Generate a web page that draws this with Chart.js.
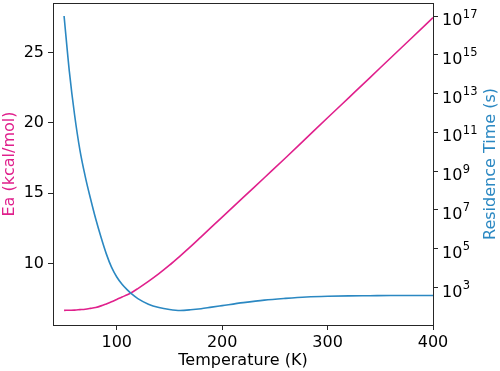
<!DOCTYPE html>
<html>
<head>
<meta charset="utf-8">
<script src="https://cdn.jsdelivr.net/npm/chart.js@4.4.1/dist/chart.umd.min.js"></script>
<style>
html,body{margin:0;padding:0;background:#ffffff;}
#c{display:block;}
</style>
</head>
<body>
<canvas id="c" width="500" height="371"></canvas>
<script>
// ---- data ----
const temperature = [50,55,60,65,70,75,80,85,90,95,100,105,110,115,120,130,140,150,160,170,180,190,200,220,240,260,280,300,320,340,360,380,400];
const activationEnergy = [6.67,6.68,6.69,6.72,6.75,6.81,6.88,6.99,7.13,7.28,7.45,7.62,7.78,7.98,8.22,8.73,9.28,9.88,10.53,11.2,11.9,12.6,13.3,14.7,16.1,17.5,18.93,20.36,21.78,23.2,24.63,26.05,27.48];
const residenceTime = [1e17,1.41e14,7.9e11,1.26e10,5.6e8,4.0e7,3.5e6,4.0e5,5.6e4,1.12e4,3.5e3,1.48e3,760,427,269,138,93,74,66,71,81,98,117,166,224,275,324,355,372,380,389,389,389];
const xTickValues = [100,200,300,400];
const eaTickValues = [10,15,20,25];
const tauTickExponents = [3,5,7,9,11,13,15,17];

const xLabel = 'Temperature (K)';
const eaLabel = 'Ea (kcal/mol)';
const tauLabel = 'Residence Time (s)';

const MAGENTA = '#e0208c';
const BLUE = '#2b88c2';
const AXIS = '#262626';
const FONT = 'DejaVu Sans';

const eaPoints = temperature.map((t,i) => ({x:t, y:activationEnergy[i]}));
const tauPoints = temperature.map((t,i) => ({x:t, y:residenceTime[i]}));

function noPad(s){ s.paddingTop = 0; s.paddingBottom = 0; s.paddingLeft = 0; s.paddingRight = 0; }

const framePlugin = {
  id: 'frame',
  afterDraw(chart){
    const {ctx, chartArea:a} = chart;
    ctx.save();
    ctx.strokeStyle = AXIS;
    ctx.lineWidth = 1;
    ctx.strokeRect(Math.round(a.left)+0.5, Math.round(a.top)+0.5, Math.round(a.right-a.left), Math.round(a.bottom-a.top));

    // right axis power-of-ten tick labels, positioned by the log scale
    const sTau = chart.scales.yTau;
    ctx.textAlign = 'left';
    ctx.textBaseline = 'alphabetic';
    ctx.fillStyle = '#000000';
    tauTickExponents.forEach(e => {
      const y = sTau.getPixelForValue(Math.pow(10, e));
      const x0 = a.right + 9;
      ctx.font = '16px "' + FONT + '"';
      ctx.fillText('10', x0, y + 9);
      const w = ctx.measureText('10').width;
      ctx.font = '11.5px "' + FONT + '"';
      ctx.fillText(String(e), x0 + w + 0.5, y + 1.5);
    });

    ctx.font = '16px "' + FONT + '"';
    ctx.textAlign = 'center';
    ctx.fillStyle = '#000000';
    ctx.fillText(xLabel, (a.left + a.right)/2, 365);
    const cy = (a.top + a.bottom)/2;
    ctx.save();
    ctx.translate(14, cy);
    ctx.rotate(-Math.PI/2);
    ctx.fillStyle = MAGENTA;
    ctx.fillText(eaLabel, 0, 0);
    ctx.restore();
    ctx.save();
    ctx.translate(495, cy);
    ctx.rotate(-Math.PI/2);
    ctx.fillStyle = BLUE;
    ctx.fillText(tauLabel, 0, 0);
    ctx.restore();
    ctx.restore();
  }
};

new Chart(document.getElementById('c'), {
  type: 'line',
  data: {
    datasets: [
      {label: eaLabel, data: eaPoints, yAxisID: 'yEa', borderColor: MAGENTA, borderWidth: 1.6, pointRadius: 0, fill: false, cubicInterpolationMode: 'monotone', order: 2},
      {label: tauLabel, data: tauPoints, yAxisID: 'yTau', borderColor: BLUE, borderWidth: 1.6, pointRadius: 0, fill: false, cubicInterpolationMode: 'monotone', order: 1}
    ]
  },
  options: {
    responsive: false,
    animation: false,
    devicePixelRatio: 1,
    layout: {padding: {top: 3, left: 0, right: 0, bottom: 0}},
    plugins: {legend: {display: false}, tooltip: {enabled: false}},
    scales: {
      x: {
        type: 'linear',
        min: 39.5, max: 400,
        afterBuildTicks: s => { s.ticks = xTickValues.map(v => ({value: v})); },
        afterFit: s => { s.height = 46; noPad(s); },
        grid: {display: true, drawOnChartArea: false, drawTicks: true, tickLength: 5, color: AXIS},
        border: {display: false},
        ticks: {color: '#000', font: {family: FONT, size: 16}, padding: 3, maxRotation: 0, autoSkip: false}
      },
      yEa: {
        type: 'linear', position: 'left',
        min: 5.63, max: 28.52,
        afterBuildTicks: s => { s.ticks = eaTickValues.map(v => ({value: v})); },
        afterFit: s => { s.width = 53; noPad(s); },
        grid: {display: true, drawOnChartArea: false, drawTicks: true, tickLength: 5, color: AXIS},
        border: {display: false},
        ticks: {color: '#000', font: {family: FONT, size: 16}, padding: 4, autoSkip: false}
      },
      yTau: {
        type: 'logarithmic', position: 'right',
        min: 11.7, max: 4.7e17,
        afterBuildTicks: s => { s.ticks = tauTickExponents.map(e => ({value: Math.pow(10, e)})); },
        afterFit: s => { s.width = 67; noPad(s); },
        grid: {display: true, drawOnChartArea: false, drawTicks: true, tickLength: 5, color: AXIS},
        border: {display: false},
        ticks: {display: false}
      }
    }
  },
  plugins: [framePlugin]
});
</script>
</body>
</html>
